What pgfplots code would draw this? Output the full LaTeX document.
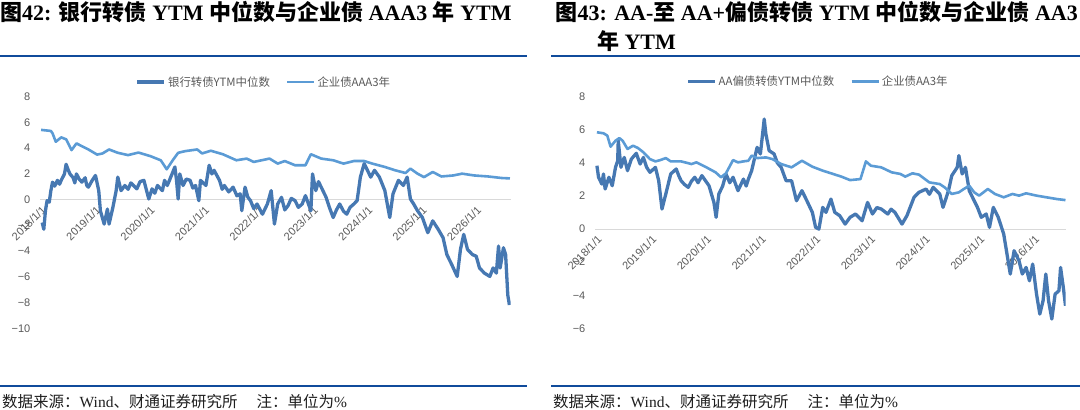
\documentclass[border=0pt]{standalone}
\usepackage{pgfplots}
\pgfplotsset{compat=1.18}
\usepackage{fontspec}
\setmainfont{Liberation Serif}
\newfontfamily\cjk{Noto Sans CJK SC}
\newfontfamily\sans{Liberation Sans}
\definecolor{darkc}{RGB}{70,120,178}
\definecolor{lightc}{RGB}{91,155,213}
\definecolor{ruleb}{RGB}{16,75,155}
\definecolor{zeroc}{RGB}{217,217,217}
\definecolor{txtg}{RGB}{89,89,89}
\pgfplotsset{
  common/.style={
    scale only axis, width=470.5pt, height=231.6pt,
    axis x line=middle, axis y line=left,
    x axis line style={draw=zeroc, line width=1pt, -},
    y axis line style={draw=none, -},
    hide obscured x ticks=false, hide obscured y ticks=false,
    major tick length=0pt,
    xtick={2018,2019,2020,2021,2022,2023,2024,2025,2026},
    xticklabels={2018/1/1,2019/1/1,2020/1/1,2021/1/1,2022/1/1,2023/1/1,2024/1/1,2025/1/1,2026/1/1},
    xticklabel style={font=\sans\fontsize{11}{13}\selectfont, text=txtg, yshift=-4pt, rotate=45, anchor=north east, inner sep=1pt},
    yticklabel style={font=\sans\fontsize{11}{13}\selectfont, text=txtg, inner sep=0pt, xshift=-9.5pt},
    legend style={draw=none, fill=none, legend columns=2, anchor=center,
      font=\cjk\fontsize{11.4}{13}\selectfont, text=txtg,
      /tikz/every even column/.append style={column sep=14pt}},
    legend image code/.code={\draw[#1] (0pt,0pt) -- (27pt,0pt);},
    legend cell align=left,
  },
  darkl/.style={color=darkc, line width=3.3pt, line join=round, no markers},
  lightl/.style={color=lightc, line width=2.6pt, line join=round, no markers},
}
\begin{document}
\begin{tikzpicture}
\path[use as bounding box] (0pt,0pt) rectangle (1080pt,-410pt);
% titles
\node[anchor=base west, inner sep=0pt, font=\fontsize{22}{22}\selectfont\bfseries] at (0pt,-20.5pt)
  {{\cjk 图}42: {\cjk 银行转债} YTM {\cjk 中位数与企业债} AAA3 {\cjk 年} YTM};
\node[anchor=base west, inner sep=0pt, font=\fontsize{22}{22}\selectfont\bfseries] at (555.5pt,-20.5pt)
  {{\cjk 图}43: AA-{\cjk 至} AA+{\cjk 偏债转债} YTM {\cjk 中位数与企业债} AA3};
\node[anchor=base west, inner sep=0pt, font=\fontsize{22}{22}\selectfont\bfseries] at (596.8pt,-49.5pt)
  {{\cjk 年} YTM};
% rules
\draw[ruleb, line width=2pt] (0pt,-56pt) -- (527pt,-56pt);
\draw[ruleb, line width=2pt] (551pt,-56pt) -- (1080pt,-56pt);
\draw[ruleb, line width=2pt] (0pt,-385.7pt) -- (527pt,-385.7pt);
\draw[ruleb, line width=2pt] (551pt,-385.7pt) -- (1080pt,-385.7pt);
% footers
\node[anchor=base west, inner sep=0pt, font=\fontsize{15.5}{15.5}\selectfont, text={rgb,255:red,30;green,30;blue,30}] at (2pt,-407pt)
  {{\cjk 数据来源：}Wind{\cjk 、财通证券研究所}\hspace{19pt}{\cjk 注：单位为}\%};
\node[anchor=base west, inner sep=0pt, font=\fontsize{15.5}{15.5}\selectfont, text={rgb,255:red,30;green,30;blue,30}] at (553pt,-407pt)
  {{\cjk 数据来源：}Wind{\cjk 、财通证券研究所}\hspace{19pt}{\cjk 注：单位为}\%};

% ---------- left chart ----------
\begin{axis}[common,
  at={(40pt,-328.3pt)}, anchor=south west,
  xmin=2017.98, xmax=2026.63, ymin=-10, ymax=8,
  ytick={-10,-8,-6,-4,-2,0,2,4,6,8},
  yticklabels={−10,−8,−6,−4,−2,0,2,4,6,8},
  legend style={at={(0.476,1.063)}},
]
\addplot[darkl] coordinates {
(2018.02,-1.78)(2018.05,-2.30)(2018.08,-0.86)(2018.11,-0.08)(2018.15,-0.20)(2018.18,0.70)
(2018.21,1.36)(2018.25,1.05)(2018.30,1.50)(2018.34,1.20)(2018.37,1.50)(2018.43,2.00)(2018.46,2.75)(2018.50,2.30)(2018.53,2.00)
(2018.59,1.70)(2018.62,1.30)(2018.65,2.00)(2018.70,1.60)(2018.75,1.36)(2018.81,1.70)(2018.84,1.10)(2018.87,0.97)(2018.94,1.50)
(2019.00,1.88)(2019.06,0.70)(2019.09,-0.86)(2019.16,-1.90)(2019.22,-0.73)(2019.25,-1.90)
(2019.32,-0.60)(2019.38,0.70)(2019.41,1.75)(2019.47,0.70)(2019.54,1.10)(2019.60,0.80)(2019.65,1.30)(2019.70,1.10)
(2019.76,0.84)(2019.82,1.40)(2019.89,1.50)(2019.98,0.05)(2020.04,0.84)(2020.09,0.50)(2020.14,1.10)(2020.23,0.70)
(2020.27,1.50)(2020.32,1.10)(2020.36,1.50)(2020.46,2.54)(2020.49,1.50)(2020.52,0.05)(2020.55,2.00)
(2020.61,1.10)(2020.67,1.60)(2020.74,1.50)(2020.79,0.90)(2020.84,1.10)(2020.90,-0.08)(2020.93,1.50)(2021.03,1.10)
(2021.09,2.67)(2021.14,2.00)(2021.18,2.28)(2021.28,1.50)(2021.33,0.80)(2021.37,1.10)(2021.45,0.60)(2021.53,0.97)(2021.60,0.30)(2021.66,0.45)
(2021.69,-0.86)(2021.75,0.97)(2021.80,0.20)(2021.85,-0.08)(2021.91,-0.70)(2021.97,-0.34)(2022.07,-1.13)(2022.16,-0.34)
(2022.23,0.70)(2022.29,-1.90)(2022.35,-0.34)(2022.42,0.18)(2022.48,-0.80)(2022.54,-0.47)(2022.60,0.10)(2022.67,-0.08)
(2022.73,-0.60)(2022.80,-0.34)(2022.86,0.31)(2022.96,-0.86)(2022.99,2.00)(2023.05,0.70)(2023.10,1.40)(2023.15,0.97)
(2023.24,0.18)(2023.30,-0.60)(2023.37,-1.39)(2023.43,-0.80)(2023.49,-0.34)(2023.56,-0.90)(2023.62,-1.13)(2023.68,-0.60)(2023.75,-0.34)(2023.81,-0.08)
(2023.87,1.75)(2023.94,2.80)(2024.00,2.28)(2024.06,1.75)(2024.13,2.28)(2024.22,1.75)
(2024.32,0.70)(2024.41,-1.39)(2024.47,0.45)(2024.57,1.50)(2024.66,1.10)(2024.73,1.75)
(2024.79,0.05)(2024.85,-0.34)(2024.92,-0.86)(2025.01,-1.39)(2025.11,-2.57)(2025.20,-1.65)
(2025.30,-2.30)(2025.39,-2.96)(2025.46,-4.27)(2025.55,-5.05)(2025.65,-5.97)(2025.71,-3.87)
(2025.77,-2.70)(2025.84,-3.87)(2025.93,-4.27)(2026.00,-4.40)(2026.06,-5.31)(2026.15,-5.71)
(2026.25,-5.97)(2026.31,-5.31)(2026.37,-5.71)(2026.41,-3.61)(2026.44,-5.31)(2026.50,-3.74)
(2026.54,-4.27)(2026.58,-7.41)(2026.61,-8.19)
};
\addlegendentry{银行转债YTM中位数}
\addplot[lightl] coordinates {
(2018.00,5.42)(2018.18,5.34)(2018.21,5.16)(2018.27,4.50)(2018.37,4.84)(2018.46,4.69)
(2018.56,3.85)(2018.65,4.37)(2018.87,3.90)(2019.03,3.50)(2019.13,3.59)(2019.25,3.90)
(2019.41,3.64)(2019.60,3.46)(2019.79,3.66)(2020.01,3.38)(2020.20,3.06)(2020.31,2.36)
(2020.42,3.06)(2020.52,3.64)(2020.65,3.77)(2020.87,3.90)(2020.96,3.59)(2021.12,3.80)
(2021.34,3.53)(2021.59,3.06)(2021.78,3.19)(2021.91,2.93)(2022.20,3.19)(2022.35,2.80)
(2022.48,3.00)(2022.67,2.67)(2022.86,2.67)(2022.96,3.53)(2023.15,3.19)(2023.37,3.06)
(2023.56,2.80)(2023.75,3.00)(2023.94,3.00)(2024.09,2.80)(2024.32,2.54)(2024.51,2.28)
(2024.70,2.07)(2024.79,2.41)(2024.92,2.02)(2025.04,1.75)(2025.20,2.15)(2025.36,1.80)
(2025.58,1.88)(2025.74,2.02)(2025.96,1.88)(2026.22,1.80)(2026.47,1.68)(2026.62,1.65)
};
\addlegendentry{企业债AAA3年}
\end{axis}

% ---------- right chart ----------
\begin{axis}[common,
  at={(595pt,-328.3pt)}, anchor=south west,
  xmin=2017.965, xmax=2026.57, ymin=-6, ymax=8,
  ytick={-6,-4,-2,0,2,4,6,8},
  yticklabels={−6,−4,−2,0,2,4,6,8},
  legend style={at={(0.474,1.066)}},
]
\addplot[darkl] coordinates {
(2018.00,3.83)(2018.03,3.13)(2018.09,2.72)(2018.12,3.33)(2018.15,2.42)(2018.22,3.13)
(2018.28,2.62)(2018.34,3.73)(2018.38,4.13)(2018.39,5.34)(2018.44,3.73)(2018.50,4.33)
(2018.56,3.53)(2018.63,4.23)(2018.72,4.58)(2018.79,3.93)(2018.85,4.33)(2018.91,3.73)
(2018.97,3.43)(2019.07,3.73)(2019.13,2.92)(2019.19,1.21)(2019.26,2.12)(2019.35,3.33)
(2019.45,3.63)(2019.50,3.20)(2019.54,2.92)(2019.60,2.70)(2019.67,2.52)(2019.73,2.90)(2019.79,3.13)(2019.85,2.80)(2019.92,3.23)(2020.05,2.62)
(2020.14,1.61)(2020.18,0.71)(2020.23,2.12)(2020.30,2.60)(2020.36,3.33)(2020.43,2.80)(2020.49,3.13)(2020.58,2.32)
(2020.68,3.02)(2020.73,2.60)(2020.77,3.02)(2020.83,3.53)(2020.93,4.94)(2020.99,4.54)(2021.06,6.65)
(2021.09,5.75)(2021.15,4.74)(2021.24,4.54)(2021.30,4.00)(2021.37,3.73)(2021.46,2.92)(2021.56,2.92)
(2021.65,1.71)(2021.75,2.32)(2021.84,1.71)(2021.94,1.01)(2022.00,0.10)(2022.06,0.00)
(2022.13,1.31)(2022.19,1.01)(2022.28,1.81)(2022.35,1.01)(2022.44,0.81)(2022.54,0.30)
(2022.63,0.71)(2022.73,0.91)(2022.85,0.50)(2022.95,1.61)(2023.04,0.91)(2023.12,1.30)(2023.20,1.21)
(2023.32,0.91)(2023.38,1.20)(2023.45,1.01)(2023.58,0.30)(2023.67,0.81)(2023.80,1.92)(2023.89,2.22)
(2024.02,2.42)(2024.08,2.10)(2024.15,2.52)(2024.27,2.12)(2024.33,1.31)(2024.43,2.32)(2024.49,3.23)
(2024.59,3.73)(2024.62,4.44)(2024.68,3.33)(2024.74,3.73)(2024.81,2.32)(2024.90,1.71)
(2024.96,1.31)(2025.03,0.71)(2025.12,0.91)(2025.18,0.10)(2025.25,1.31)(2025.34,0.71)
(2025.44,-0.30)(2025.50,-1.51)(2025.56,-2.72)(2025.63,-1.31)(2025.72,-1.92)(2025.78,-2.72)
(2025.85,-2.32)(2025.91,-3.13)(2025.97,-2.12)(2026.04,-3.93)(2026.10,-5.14)(2026.16,-4.33)
(2026.21,-2.72)(2026.26,-4.33)(2026.32,-5.44)(2026.38,-3.93)(2026.45,-3.73)(2026.48,-2.32)
(2026.53,-3.53)(2026.57,-4.64)
};
\addlegendentry{AA偏债转债YTM中位数}
\addplot[lightl] coordinates {
(2018.00,5.85)(2018.12,5.79)(2018.19,5.65)(2018.25,4.98)(2018.34,5.34)(2018.41,5.50)
(2018.47,5.34)(2018.56,4.84)(2018.66,5.04)(2018.75,4.90)(2018.85,4.64)(2018.97,4.23)
(2019.07,4.09)(2019.16,4.17)(2019.26,4.29)(2019.35,4.09)(2019.54,4.09)(2019.73,3.93)
(2019.82,4.03)(2019.98,3.77)(2020.17,3.43)(2020.27,3.13)(2020.36,3.37)(2020.49,4.17)
(2020.58,4.03)(2020.68,4.09)(2020.77,4.13)(2020.83,4.44)(2020.93,4.29)(2021.09,4.33)
(2021.21,4.23)(2021.37,3.93)(2021.56,3.73)(2021.75,4.13)(2021.94,3.77)(2022.13,3.53)
(2022.32,3.33)(2022.47,3.17)(2022.63,2.96)(2022.82,3.02)(2022.92,4.09)(2023.01,3.83)
(2023.20,3.73)(2023.39,3.43)(2023.55,3.33)(2023.64,3.17)(2023.77,3.37)(2023.89,3.29)
(2024.08,2.82)(2024.27,2.72)(2024.36,2.52)(2024.49,2.12)(2024.62,2.22)(2024.71,2.42)
(2024.81,2.62)(2024.90,2.22)(2024.99,2.02)(2025.15,2.42)(2025.28,2.12)(2025.44,1.92)
(2025.60,2.12)(2025.72,2.02)(2025.85,2.16)(2026.04,2.02)(2026.22,1.92)(2026.42,1.81)
(2026.57,1.75)
};
\addlegendentry{企业债AA3年}
\end{axis}
\end{tikzpicture}
\end{document}
